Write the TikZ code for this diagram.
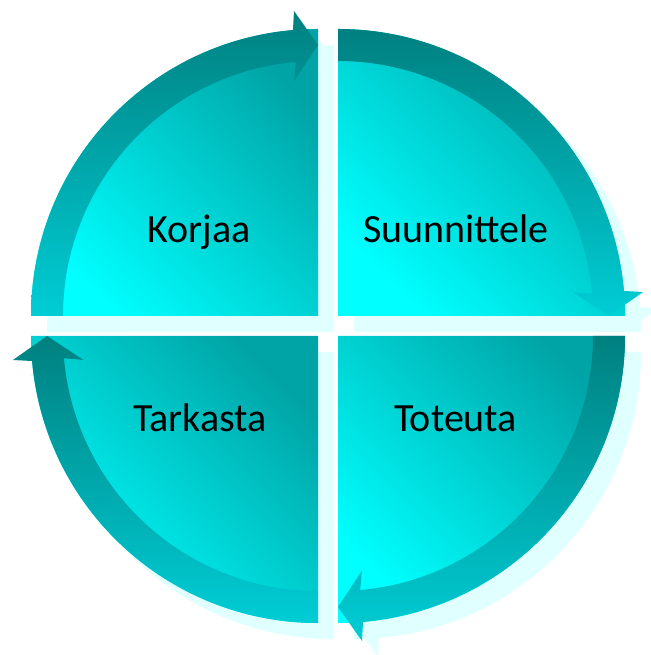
\documentclass[tikz,border=0pt]{standalone}
\usepackage{fontspec}
\setmainfont{Carlito}
\definecolor{shadowc}{HTML}{E0FFFF}
\definecolor{qbright}{HTML}{00FFFF}
\definecolor{qdark}{HTML}{00A4A6}
\definecolor{bdark}{HTML}{008080}
\definecolor{blight}{HTML}{00CDD5}
\newcommand\qpiefill[2]{\path[#2] (0,0) -- ({180+#1}:287) arc[start angle={180+#1}, end angle={90+#1}, radius=287] -- cycle;}
\newcommand\qbandfill[2]{\path[#2] ({180+#1}:255) -- ({180+#1}:287) arc[start angle={180+#1}, end angle={95+#1}, radius=287] -- ({94.5+#1}:306) -- ({90+#1}:271) -- ({95.8+#1}:236) -- ({95+#1}:255) arc[start angle={95+#1}, end angle={180+#1}, radius=255] -- cycle;}
\tikzset{
  shadowstyle/.style={fill=shadowc},
  piestyle/.style={top color=qbright, bottom color=qdark, shading angle=135},
  bandstyle/.style={top color=bdark, bottom color=blight},
  lbl/.style={font=\fontsize{40}{42}\selectfont, text=black, anchor=base, inner sep=0pt}
}
\begin{document}
\begin{tikzpicture}[x=1pt,y=1pt]
\useasboundingbox (0,0) rectangle (650,655);
% shadows
\foreach \cx/\cy/\off in {318/339/0, 338/339/-90, 338/319/-180, 318/319/-270}{
  \begin{scope}[shift={(\cx+16,\cy-16)}]
    \qpiefill{\off}{shadowstyle}
    \qbandfill{\off}{shadowstyle}
  \end{scope}
}
% quadrants
\foreach \cx/\cy/\off in {318/339/0, 338/339/-90, 338/319/-180, 318/319/-270}{
  \begin{scope}[shift={(\cx,\cy)}]
    \qpiefill{\off}{piestyle}
    \qbandfill{\off}{bandstyle}
  \end{scope}
}
\node[lbl] (korjaa) at (199,412) {Korjaa};
\node[lbl] (suunnittele) at (456,412) {Suunnittele};
\node[lbl] (tarkasta) at (200,223.5) {Tarkasta};
\node[lbl] (toteuta) at (455.5,223.5) {Toteuta};
\end{tikzpicture}
\end{document}
